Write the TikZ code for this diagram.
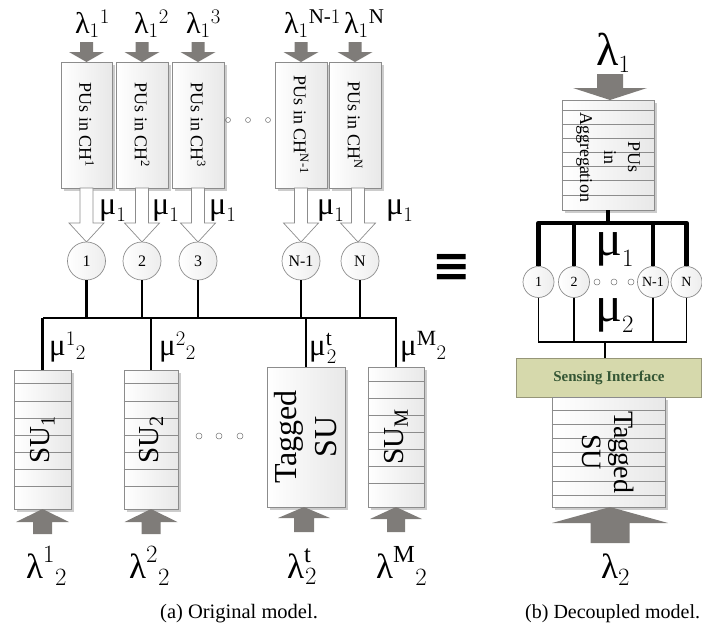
\documentclass[tikz,border=0pt]{standalone}
\usepackage{fontspec}
\setmainfont{Liberation Serif}
\newfontfamily\symfont{DejaVu Sans}
\usepackage{amsmath}
\usetikzlibrary{shadows}
\definecolor{agray}{RGB}{127,124,121}
\definecolor{bord}{RGB}{140,140,140}
\definecolor{sensfill}{RGB}{214,217,172}
\definecolor{sensbord}{RGB}{150,150,120}
\definecolor{senstext}{RGB}{52,86,52}
\newcommand\Lam{\mbox{λ}}
\newcommand\Mu{\mbox{μ}}
\newcommand\fs[1]{\fontsize{#1}{#1}\selectfont}
% block arrow: [style]{x}{y tail}{y head base}{y tip}{shaft width}{head width}
\newcommand\barrow[7][]{\path[#1] ({#2-#6/2},#3) -- ({#2+#6/2},#3) -- ({#2+#6/2},#4) -- ({#2+#7/2},#4) -- (#2,#5) -- ({#2-#7/2},#4) -- ({#2-#6/2},#4) -- cycle;}
\tikzset{
  box/.style={draw=bord, line width=0.8pt, left color=white, right color=black!9, inner sep=0pt,
    drop shadow={shadow xshift=2.5pt, shadow yshift=-2.5pt, fill=black!20, opacity=1}},
  stripe/.style={draw=bord, line width=0.6pt},
  garrow/.style={fill=agray},
  harrow/.style={draw=bord, fill=white, line width=0.7pt},
  circ/.style={circle, draw=bord, line width=0.7pt, left color=white, right color=black!7, inner sep=0pt},
  dotc/.style={circle, draw=black!55, line width=0.5pt, minimum size=5pt, inner sep=0pt},
  busline/.style={draw=black, line width=2.2pt},
  heavy/.style={draw=black, line width=4.8pt},
  lightline/.style={draw=black, line width=1.1pt},
  lbl/.style={anchor=base west, inner sep=0pt},
}
\begin{document}
\begin{tikzpicture}[x=1pt, y=-1pt]
\useasboundingbox (0,0) rectangle (702,625);

% ---------------- (a) original model ----------------
% PU boxes
\node[box, minimum width=51pt, minimum height=126pt] (pu1) at (86.5,125) {};
\node[box, minimum width=52pt, minimum height=126pt] (pu2) at (142,125) {};
\node[box, minimum width=52pt, minimum height=126pt] (pu3) at (198,125) {};
\node[box, minimum width=52pt, minimum height=126pt] (puN1) at (301,125) {};
\node[box, minimum width=52pt, minimum height=126pt] (puN) at (355,125) {};
\node[rotate=-90, font=\fs{18}] (pu1t) at (pu1) {PUs in CH\textsuperscript{1}};
\node[rotate=-90, font=\fs{18}] (pu2t) at (pu2) {PUs in CH\textsuperscript{2}};
\node[rotate=-90, font=\fs{18}] (pu3t) at (pu3) {PUs in CH\textsuperscript{3}};
\node[rotate=-90, font=\fs{18}] (puN1t) at (puN1) {PUs in CH\textsuperscript{N-1}};
\node[rotate=-90, font=\fs{18}] (puNt) at (puN) {PUs in CH\textsuperscript{N}};

% dots between the PU boxes
\node[dotc] (pd1) at (228,120) {};
\node[dotc] (pd2) at (248,120) {};
\node[dotc] (pd3) at (268,120) {};

% arrival arrows and labels
\barrow[garrow]{86.5}{42}{52}{62}{13}{35}
\barrow[garrow]{142}{42}{52}{62}{13}{35}
\barrow[garrow]{198}{42}{52}{62}{13}{35}
\barrow[garrow]{301}{42}{52}{62}{13}{35}
\barrow[garrow]{355}{42}{52}{62}{13}{35}
\node[lbl, font=\fs{30}] (la1) at (75,33) {$\Lam_{1}{}^{1}$};
\node[lbl, font=\fs{30}] (la2) at (134,33) {$\Lam_{1}{}^{2}$};
\node[lbl, font=\fs{30}] (la3) at (186,33) {$\Lam_{1}{}^{3}$};
\node[lbl, font=\fs{30}] (laN1) at (284,33) {$\Lam_{1}{}^{\mathrm{N}\text{-}1}$};
\node[lbl, font=\fs{30}] (laN) at (344,33) {$\Lam_{1}{}^{\mathrm{N}}$};

% service arrows into the channel servers
\barrow[harrow]{86.5}{188}{223}{242}{13}{35}
\barrow[harrow]{142}{188}{223}{242}{13}{35}
\barrow[harrow]{198}{188}{223}{242}{13}{35}
\barrow[harrow]{301}{188}{223}{242}{13}{35}
\barrow[harrow]{358}{188}{223}{242}{13}{35}
\node[lbl, font=\fs{32}] (mu1a) at (99,214) {$\Mu_{1}$};
\node[lbl, font=\fs{32}] (mu1b) at (152,214) {$\Mu_{1}$};
\node[lbl, font=\fs{32}] (mu1c) at (209,214) {$\Mu_{1}$};
\node[lbl, font=\fs{32}] (mu1d) at (317,214) {$\Mu_{1}$};
\node[lbl, font=\fs{32}] (mu1e) at (386,214) {$\Mu_{1}$};

% channel servers
\node[circ, minimum size=38pt, font=\fs{16}] (c1) at (86.5,261) {1};
\node[circ, minimum size=38pt, font=\fs{16}] (c2) at (142,261) {2};
\node[circ, minimum size=38pt, font=\fs{16}] (c3) at (198,261) {3};
\node[circ, minimum size=38pt, font=\fs{16}] (cN1) at (301,261) {N-1};
\node[circ, minimum size=38pt, font=\fs{16}] (cN) at (360,261) {N};

% SU queues
\node[box, minimum width=57pt, minimum height=139pt] (su1) at (42.5,439.5) {};
\node[box, minimum width=54pt, minimum height=139pt] (su2) at (151,439.5) {};
\node[box, minimum width=78pt, minimum height=140pt] (tag) at (306,437) {};
\node[box, minimum width=56pt, minimum height=140pt] (suM) at (396,437) {};
\foreach \y in {383,401,418,435,452,469,486} {
  \draw[stripe] (su1.west |- 0,\y) -- (su1.east |- 0,\y);
  \draw[stripe] (su2.west |- 0,\y) -- (su2.east |- 0,\y);
}
\foreach \y in {381,398,415,432,449,466,483}
  \draw[stripe] (suM.west |- 0,\y) -- (suM.east |- 0,\y);
\node[rotate=90, font=\fs{29}] (su1t) at (su1) {SU\textsubscript{1}};
\node[rotate=90, font=\fs{29}] (su2t) at (su2) {SU\textsubscript{2}};
\node[rotate=90, align=center, font=\fontsize{32}{40}\selectfont] (tagt) at (tag) {Tagged\\SU};
\node[rotate=90, font=\fs{29}] (suMt) at (suM) {SU\textsubscript{M}};

\node[dotc, minimum size=6pt] (sd1) at (199,436) {};
\node[dotc, minimum size=6pt] (sd2) at (219,436) {};
\node[dotc, minimum size=6pt] (sd3) at (240,436) {};

% shared bus between the servers and the SUs
\coordinate (busL) at (43,318);
\coordinate (busR) at (397,318);
\draw[busline] (busL) -- (busR);
\foreach \c in {c1,c2,c3,cN1,cN}
  \draw[busline] (\c.south) -- (\c.south |- busL);
\foreach \s in {su1,su2,tag,suM}
  \draw[busline] (\s.north |- busL) -- (\s.north);

\node[lbl, font=\fs{31}] (m21) at (49,355) {$\Mu^{1}{}_{2}$};
\node[lbl, font=\fs{31}] (m22) at (159,355) {$\Mu^{2}{}_{2}$};
\node[lbl, font=\fs{31}] (m2t) at (309,355) {$\Mu^{\mathrm{t}}_{\kern1pt 2}$};
\node[lbl, font=\fs{31}] (m2M) at (400,355) {$\Mu^{\mathrm{M}}{}_{2}$};

% SU arrivals
\barrow[garrow]{42.5}{534}{522}{509}{19}{53}
\barrow[garrow]{151}{534}{522}{509}{19}{53}
\barrow[garrow]{304}{532}{518}{507}{20}{52}
\barrow[garrow]{396}{532}{519}{507}{18}{52}
\node[lbl, font=\fs{35}] (l21) at (26,578) {$\Lam^{1}{}_{2}$};
\node[lbl, font=\fs{35}] (l22) at (129,578) {$\Lam^{2}{}_{2}$};
\node[lbl, font=\fs{35}] (l2t) at (287,578) {$\Lam^{\mathrm{t}}_{\kern1pt 2}$};
\node[lbl, font=\fs{35}] (l2M) at (376,578) {$\Lam^{\mathrm{M}}{}_{2}$};

\node[font=\symfont\bfseries\fs{46}] (equiv) at (452,268) {≡};

% ---------------- (b) decoupled model ----------------
\node[box, minimum width=92pt, minimum height=110pt] (pua) at (608,155) {};
\foreach \y in {110,124,138,152,166,180,195}
  \draw[stripe] (pua.west |- 0,\y) -- (pua.east |- 0,\y);
\node[rotate=-90, align=center, font=\fontsize{18}{24}\selectfont] (puat) at (608,157) {PUs\\in\\Aggregation};
\barrow[garrow]{610}{74}{88}{100}{26}{74}
\node[lbl, font=\fs{46}] (lam1) at (596,65) {$\Lam_{1}$};

\node[circ, minimum size=31pt, font=\fs{14}] (r1) at (538.5,282) {1};
\node[circ, minimum size=31pt, font=\fs{14}] (r2) at (574,282) {2};
\node[circ, minimum size=31pt, font=\fs{14}] (rN1) at (653,282) {N-1};
\node[circ, minimum size=31pt, font=\fs{14}] (rN) at (686.5,282) {N};
\node[dotc, minimum size=6pt] (rd1) at (597,282) {};
\node[dotc, minimum size=6pt] (rd2) at (614,282) {};
\node[dotc, minimum size=6pt] (rd3) at (631,282) {};

\coordinate (topbus) at (610,223);
\draw[heavy] (pua.south) -- (pua.south |- topbus);
\draw[heavy, line join=round] (r1.north) -- (r1.north |- topbus) -- (rN.north |- topbus) -- (rN.north);
\draw[heavy] (r2.north) -- (r2.north |- topbus);
\draw[heavy] (rN1.north) -- (rN1.north |- topbus);
\node[lbl, font=\fs{50}] (mub1) at (595,255) {$\Mu_{1}$};

\coordinate (lowbus) at (605,342);
\draw[lightline] (r1.south) -- (r1.south |- lowbus) -- (rN.south |- lowbus) -- (rN.south);
\draw[lightline] (r2.south) -- (r2.south |- lowbus);
\draw[lightline] (rN1.south) -- (rN1.south |- lowbus);
\node[lbl, font=\fs{50}] (mub2) at (595,321) {$\Mu_{2}$};

\node[draw=sensbord, fill=sensfill, line width=0.7pt, minimum width=185pt, minimum height=39pt,
      inner sep=0pt, font=\bfseries\fs{15}, text=senstext] (sens) at (609,377.5) {Sensing Interface};
\draw[lightline] (lowbus) -- (lowbus |- sens.north);

\node[box, minimum width=113pt, minimum height=110pt] (tagb) at (608.5,452) {};
\foreach \y in {410,424,438,452,466,481,495}
  \draw[stripe] (tagb.west |- 0,\y) -- (tagb.east |- 0,\y);
\node[rotate=-90, align=center, font=\fontsize{28}{32}\selectfont] (tagbt) at (tagb) {Tagged\\SU};
\barrow[garrow]{610}{543}{523}{507}{39}{116}
\node[lbl, font=\fs{35}] (lam2) at (601,578) {$\Lam_{2}$};

% captions
\node[lbl, font=\fs{20.5}] (capa) at (160,618) {(a) Original model.};
\node[lbl, font=\fs{20}] (capb) at (525,618) {(b) Decoupled model.};
\end{tikzpicture}
\end{document}
